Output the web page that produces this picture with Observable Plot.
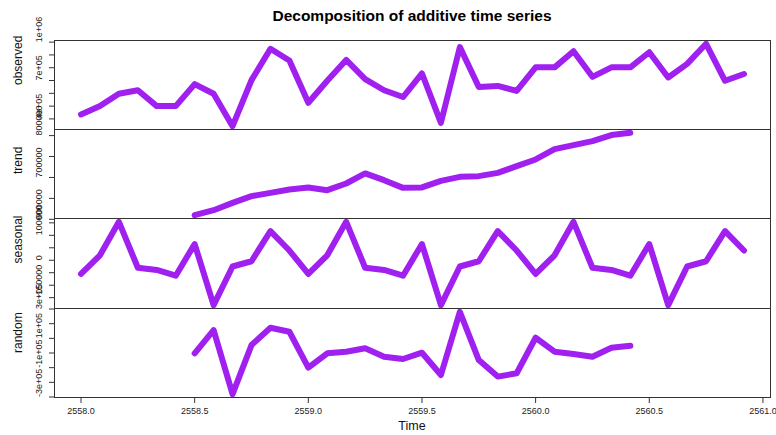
<!DOCTYPE html>
<html><head><meta charset="utf-8">
<script src="https://cdn.jsdelivr.net/npm/d3@7"></script>
<script src="https://cdn.jsdelivr.net/npm/@observablehq/plot@0.6"></script>
<style>
body{margin:0;background:#fff;font-family:"Liberation Sans",Arial,sans-serif;}
#wrap{position:relative;width:776px;height:435px;overflow:hidden;}
.panel{position:absolute;left:0;}
#title{position:absolute;top:7px;left:54px;width:716px;text-align:center;font-weight:bold;font-size:15.5px;line-height:18px;color:#000;}
#xlab{position:absolute;top:419px;left:54px;width:716px;text-align:center;font-size:12.5px;line-height:14px;color:#111;}
</style></head><body>
<div id="wrap"><div id="title">Decomposition of additive time series</div><div id="xlab">Time</div></div>
<script>
const startYear = 2558, frequency = 12;
const observed = [435000, 500000, 597000, 624000, 500000, 500000, 672000, 597000, 343000, 703000, 948000, 856000,
  526000, 698000, 861000, 711000, 624000, 571000, 755000, 369000, 961000, 650000, 658000, 619000,
  803000, 803000, 929000, 729000, 803000, 803000, 921000, 724000, 830000, 987000, 698000, 751000];
const trend = [null, null, null, null, null, null, 609800, 621800, 639200, 655300, 663200, 671300,
  676100, 669600, 685600, 709600, 693500, 675100, 676100, 691900, 701400, 703100, 711000, 727000,
  743000, 767700, 777300, 786800, 801200, 806700, null, null, null, null, null, null];
const seasonal = [-55000, 20000, 154000, -30000, -39000, -62000, 65000, -180000, -25000, -4000, 117000, 39000,
  -55000, 20000, 154000, -30000, -39000, -62000, 65000, -180000, -25000, -4000, 117000, 39000,
  -55000, 20000, 154000, -30000, -39000, -62000, 65000, -180000, -25000, -4000, 117000, 39000];
const random = [null, null, null, null, null, null, -2000, 156000, -281000, 54000, 172000, 145000,
  -100000, -2000, 9000, 32000, -25000, -41000, 2000, -150000, 281000, -48000, -161000, -138000,
  104000, 9000, -7000, -25000, 36000, 50000, null, null, null, null, null, null];

const xTicks = [2558, 2558.5, 2559, 2559.5, 2560, 2560.5, 2561];
const xTickLabels = ["2558.0", "2558.5", "2559.0", "2559.5", "2560.0", "2560.5", "2561.0"];

const panelNames = ["observed", "trend", "seasonal", "random"];
const obsTicks = [400000, 500000, 600000, 700000, 800000, 900000, 1000000];
const obsLabelVals = [400000, 700000, 1000000];
const obsLabelText = ["4e+05", "7e+05", "1e+06"];
const trendTicks = [600000, 650000, 700000, 750000, 800000];
const trendLabelVals = [600000, 700000, 800000];
const trendLabelText = ["600000", "700000", "800000"];
const seasTicks = [-150000, -100000, -50000, 0, 50000, 100000, 150000];
const seasLabelVals = [-150000, 0, 100000];
const seasLabelText = ["-150000", "0", "100000"];
const randTicks = [-300000, -200000, -100000, 0, 100000, 200000, 300000];
const randLabelVals = [-300000, -100000, 100000, 300000];
const randLabelText = ["-3e+05", "-1e+05", "1e+05", "3e+05"];

const times = observed.map((_, i) => startYear + i / frequency);
function ext(vals) {
  const v = vals.filter(d => d != null);
  const [a, b] = d3.extent(v);
  const pad = (b - a) * 0.04;
  return [a - pad, b + pad];
}
const xDomain = ext(times);

const panels = [
  {series: observed, ticks: obsTicks, lv: obsLabelVals, lt: obsLabelText},
  {series: trend, ticks: trendTicks, lv: trendLabelVals, lt: trendLabelText},
  {series: seasonal, ticks: seasTicks, lv: seasLabelVals, lt: seasLabelText},
  {series: random, ticks: randTicks, lv: randLabelVals, lt: randLabelText}
];
const tops = [40, 129, 218, 308];
const heights = [89, 89, 90, 89];
const wrap = document.getElementById("wrap");
const font = '"Liberation Sans", Arial, sans-serif';

panels.forEach((p, k) => {
  const rows = p.series.map((v, i) => ({t: times[i], v})).filter(d => d.v != null);
  const last = k === panels.length - 1;
  const mt = 2, mb = last ? 30 : 2;
  const marks = [
    Plot.line(rows, {x: "t", y: "v", stroke: "#A020F0", strokeWidth: 6, strokeLinejoin: "round", strokeLinecap: "round"}),
    Plot.frame({stroke: "#333", strokeWidth: 1}),
    Plot.axisY({ticks: p.ticks, tickSize: 5, tickFormat: () => "", label: null, stroke: "#333"}),
    Plot.text(p.lv, {y: d => d, text: (d, i) => p.lt[i], frameAnchor: "left", dx: -15, rotate: -90, fontSize: 9, fill: "#222"}),
    Plot.text([panelNames[k]], {text: d => d, frameAnchor: "left", dx: -36, rotate: -90, fontSize: 12, fill: "#111"})
  ];
  if (last) {
    marks.push(Plot.axisX({ticks: xTicks, tickFormat: (d, i) => xTickLabels[i], tickSize: 6, tickPadding: 4, label: null, fontSize: 9, stroke: "#333", fill: "#222"}));
  }
  const chart = Plot.plot({
    width: 776,
    height: heights[k] + mt + mb,
    marginLeft: 54, marginRight: 6, marginTop: mt, marginBottom: mb,
    x: last ? {domain: xDomain} : {domain: xDomain, axis: null},
    y: {domain: ext(p.series)},
    style: {overflow: "visible", background: "transparent", fontFamily: font, fontSize: "9px", color: "#222"},
    marks
  });
  chart.classList.add("panel");
  chart.style.position = "absolute";
  chart.style.top = (tops[k] - mt) + "px";
  chart.style.left = "0px";
  wrap.appendChild(chart);
});
</script>
</body></html>
